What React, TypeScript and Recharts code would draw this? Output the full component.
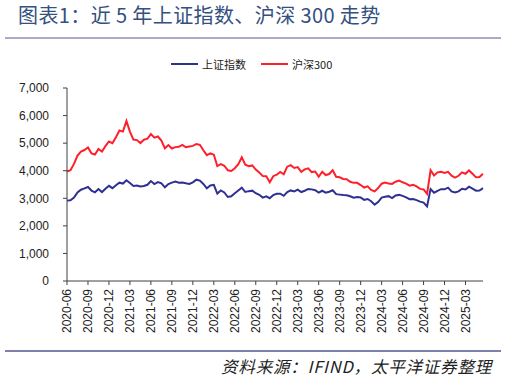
import { LineChart, Line, XAxis, YAxis } from 'recharts';

const dates = [
  '2020-06-01', '2020-06-16', '2020-07-01', '2020-07-16', '2020-08-01', '2020-08-16', '2020-09-01', '2020-09-16', '2020-10-01', '2020-10-16', '2020-11-01', '2020-11-16', '2020-12-01', '2020-12-16',
  '2021-01-01', '2021-01-16', '2021-02-01', '2021-02-16', '2021-03-01', '2021-03-16', '2021-04-01', '2021-04-16', '2021-05-01', '2021-05-16', '2021-06-01', '2021-06-16',
  '2021-07-01', '2021-07-16', '2021-08-01', '2021-08-16', '2021-09-01', '2021-09-16', '2021-10-01', '2021-10-16', '2021-11-01', '2021-11-16', '2021-12-01', '2021-12-16',
  '2022-01-01', '2022-01-16', '2022-02-01', '2022-02-16', '2022-03-01', '2022-03-16', '2022-04-01', '2022-04-16', '2022-05-01', '2022-05-16', '2022-06-01', '2022-06-16',
  '2022-07-01', '2022-07-16', '2022-08-01', '2022-08-16', '2022-09-01', '2022-09-16', '2022-10-01', '2022-10-16', '2022-11-01', '2022-11-16', '2022-12-01', '2022-12-16',
  '2023-01-01', '2023-01-16', '2023-02-01', '2023-02-16', '2023-03-01', '2023-03-16', '2023-04-01', '2023-04-16', '2023-05-01', '2023-05-16', '2023-06-01', '2023-06-16',
  '2023-07-01', '2023-07-16', '2023-08-01', '2023-08-16', '2023-09-01', '2023-09-16', '2023-10-01', '2023-10-16', '2023-11-01', '2023-11-16', '2023-12-01', '2023-12-16',
  '2024-01-01', '2024-01-16', '2024-02-01', '2024-02-16', '2024-03-01', '2024-03-16', '2024-04-01', '2024-04-16', '2024-05-01', '2024-05-16', '2024-06-01', '2024-06-16',
  '2024-07-01', '2024-07-16', '2024-08-01', '2024-08-16', '2024-09-01', '2024-09-16', '2024-10-01', '2024-10-16', '2024-11-01', '2024-11-16', '2024-12-01', '2024-12-16',
  '2025-01-01', '2025-01-16', '2025-02-01', '2025-02-16', '2025-03-01', '2025-03-16', '2025-04-01', '2025-04-16', '2025-05-01', '2025-05-16',
];

// 上证指数
const sse = [
  2915, 2931, 3025, 3210, 3310, 3360, 3410, 3280, 3218, 3336, 3225, 3346, 3451, 3367,
  3473, 3566, 3533, 3655, 3551, 3446, 3466, 3426, 3447, 3490, 3624, 3518,
  3588, 3540, 3398, 3517, 3567, 3607, 3568, 3572, 3545, 3521, 3577, 3675,
  3640, 3521, 3361, 3465, 3488, 3170, 3283, 3211, 3047, 3073, 3182, 3285,
  3387, 3228, 3259, 3277, 3184, 3126, 3024, 3071, 3003, 3119, 3165, 3168,
  3089, 3228, 3285, 3250, 3312, 3226, 3273, 3338, 3323, 3290, 3204, 3273,
  3202, 3237, 3290, 3150, 3133, 3117, 3110, 3073, 3023, 3050, 3031, 2942,
  2975, 2893, 2770, 2865, 3027, 3054, 3077, 3007, 3105, 3123, 3086, 3032,
  2967, 2976, 2932, 2879, 2842, 2704, 3336, 3202, 3272, 3330, 3326, 3386,
  3252, 3210, 3250, 3346, 3321, 3419, 3348, 3276, 3279, 3367,
];

// 沪深300
const csi300 = [
  3971, 4020, 4247, 4552, 4695, 4750, 4840, 4630, 4587, 4790, 4695, 4890, 5059, 5000,
  5211, 5458, 5418, 5807, 5418, 5130, 5110, 5003, 5123, 5160, 5330, 5200,
  5240, 5090, 4811, 4930, 4805, 4856, 4866, 4934, 4850, 4880, 4900, 4970,
  4940, 4740, 4563, 4626, 4582, 4170, 4240, 4180, 4016, 3990, 4090, 4238,
  4485, 4216, 4164, 4191, 4043, 3932, 3804, 3802, 3580, 3802, 3854, 3954,
  3872, 4146, 4201, 4100, 4130, 3960, 4050, 4088, 3950, 3970, 3780, 3964,
  3842, 3880, 4020, 3780, 3760, 3700, 3690, 3600, 3560, 3560, 3480, 3390,
  3431, 3300, 3250, 3370, 3530, 3570, 3540, 3520, 3600, 3640, 3580, 3530,
  3460, 3490, 3430, 3340, 3320, 3160, 4017, 3830, 3940, 3960, 3915, 3960,
  3820, 3750, 3817, 3940, 3890, 4010, 3890, 3760, 3770, 3890,
];

const yTicks = [0, 1000, 2000, 3000, 4000, 5000, 6000, 7000];

const data = dates.map((d, i) => ({ date: d, sse: sse[i], csi300: csi300[i] }));

const BLUE = '#2E3192';
const RED = '#FF1F2A';

// page has the default 8px body margin; drop it so the figure sits at 0,0
if (typeof document !== 'undefined') document.body.style.margin = '0';

const DateTick = (props: any) => {
  const { x, y, payload } = props;
  return (
    <g transform={`translate(${x},${y})`}>
      <text x={0} y={0} dy={4} textAnchor="end" transform="rotate(-90)" fill="#222" fontSize={12}>
        {String(payload.value).slice(0, 7)}
      </text>
    </g>
  );
};

const App = () => {
  return (
    <div
      style={{
        position: 'relative',
        width: 507,
        height: 378,
        background: '#fff',
        fontFamily: '"Liberation Sans", Arial, sans-serif',
        overflow: 'hidden',
      }}
    >
      <div
        style={{
          position: 'absolute',
          left: 18,
          top: 0,
          fontSize: 20,
          color: '#34507F',
          fontFamily: '"Noto Sans CJK SC", sans-serif',
          whiteSpace: 'nowrap',
          lineHeight: '30px',
          letterSpacing: 0.4,
        }}
      >
        图表1：近 5 年上证指数、沪深 300 走势
      </div>
      <div style={{ position: 'absolute', left: 5, top: 37, width: 496, height: 2, background: '#A9ABC9' }} />

      <div
        style={{
          position: 'absolute',
          left: 171,
          top: 56,
          height: 16,
          display: 'flex',
          alignItems: 'center',
          fontSize: 11,
          color: '#222',
          fontFamily: '"Noto Sans CJK SC", sans-serif',
          whiteSpace: 'nowrap',
        }}
      >
        <span style={{ display: 'inline-block', width: 27, height: 2, background: BLUE, marginRight: 4 }} />
        <span>上证指数</span>
        <span style={{ display: 'inline-block', width: 27, height: 2, background: RED, marginLeft: 15, marginRight: 4 }} />
        <span>沪深300</span>
      </div>

      <div style={{ position: 'absolute', left: 0, top: 0 }}>
        <LineChart width={507} height={341} data={data} margin={{ top: 88, right: 24, left: 0, bottom: 0 }}>
          <XAxis
            dataKey="date"
            interval={5}
            tick={<DateTick />}
            tickSize={4}
            tickMargin={4}
            height={60}
            stroke="#404040"
            tickLine={{ stroke: '#404040' }}
          />
          <YAxis
            domain={[0, 7000]}
            ticks={yTicks}
            width={67}
            tickSize={4}
            tickMargin={14}
            stroke="#404040"
            tick={{ fill: '#222', fontSize: 12 }}
            tickFormatter={(v: number) => v.toLocaleString('en-US')}
          />
          <Line type="linear" dataKey="sse" name="上证指数" stroke={BLUE} strokeWidth={2} dot={false} isAnimationActive={false} />
          <Line type="linear" dataKey="csi300" name="沪深300" stroke={RED} strokeWidth={2} dot={false} isAnimationActive={false} />
        </LineChart>
      </div>

      <div style={{ position: 'absolute', left: 5, top: 350, width: 496, height: 1.5, background: '#7F80B0' }} />
      <div
        style={{
          position: 'absolute',
          right: 15,
          top: 354,
          fontSize: 16.5,
          fontStyle: 'italic',
          color: '#222',
          fontFamily: '"Noto Sans CJK SC", sans-serif',
          whiteSpace: 'nowrap',
          lineHeight: '24px',
          letterSpacing: 0.8,
        }}
      >
        资料来源：IFIND，太平洋证券整理
      </div>
    </div>
  );
};

export default App;
